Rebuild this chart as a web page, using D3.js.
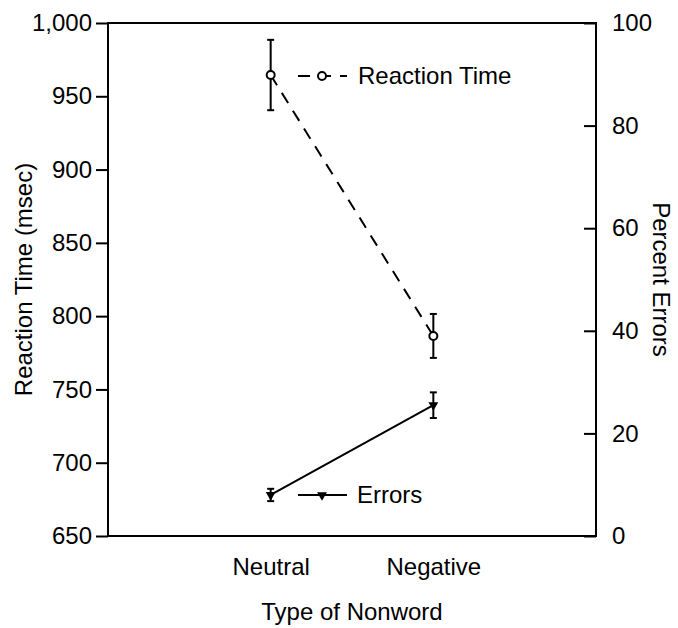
<!DOCTYPE html>
<html>
<head>
<meta charset="utf-8">
<script src="https://cdn.jsdelivr.net/npm/d3@7"></script>
<style>
  body { margin: 0; background: #fff; }
  text { font-family: "Liberation Sans", Arial, Helvetica, sans-serif; fill: #000; }
</style>
</head>
<body>
<div id="chart"></div>
<script>
// values
var categories = ["Neutral", "Negative"];
var rtMeans = [964.5, 786.5];
var rtErrors = [24, 15];
var pctMeans = [8, 25.5];
var pctErrors = [1.2, 2.5];
var rtTicks = [650, 700, 750, 800, 850, 900, 950, 1000];
var pctTicks = [0, 20, 40, 60, 80, 100];

var svgWidth = 678;
var svgHeight = 628;
var margin = { top: 23, right: 82, bottom: 92, left: 108 };
var width = svgWidth - margin.left - margin.right;
var height = svgHeight - margin.top - margin.bottom;
var fontSize = 24;

var svg = d3.select("#chart")
    .append("svg")
    .attr("width", svgWidth)
    .attr("height", svgHeight);

var g = svg.append("g")
    .attr("transform", `translate(${margin.left}, ${margin.top})`);

var x = d3.scalePoint()
    .domain(categories)
    .range([0, width])
    .padding(1);

var yRT = d3.scaleLinear().domain([650, 1000]).range([height, 0]);
var yPct = d3.scaleLinear().domain([0, 100]).range([height, 0]);

// axes
var leftAxis = d3.axisLeft(yRT)
    .tickValues(rtTicks)
    .tickSize(12)
    .tickPadding(4)
    .tickFormat(d3.format(","));
var rightAxis = d3.axisRight(yPct)
    .tickValues(pctTicks)
    .tickSize(-12)
    .tickPadding(16);
var bottomAxis = d3.axisBottom(x)
    .tickSize(0)
    .tickPadding(22);

function styleAxis(sel) {
    sel.select(".domain").remove();
    sel.selectAll("line").attr("stroke", "#000").attr("stroke-width", 2);
    sel.selectAll("text").style("font-size", fontSize + "px").attr("fill", "#000");
}

g.append("g").call(leftAxis).call(styleAxis);
g.append("g").attr("transform", `translate(${width}, 0)`).call(rightAxis).call(styleAxis);
g.append("g").attr("transform", `translate(0, ${height})`).call(bottomAxis).call(styleAxis);

// frame
g.append("rect")
    .attr("width", width)
    .attr("height", height)
    .attr("fill", "none")
    .attr("stroke", "#000")
    .attr("stroke-width", 2);

// axis titles
g.append("text")
    .attr("transform", `translate(${-76}, ${height / 2}) rotate(-90)`)
    .attr("text-anchor", "middle")
    .style("font-size", fontSize + "px")
    .text("Reaction Time (msec)");

g.append("text")
    .attr("transform", `translate(${width + 57}, ${height / 2}) rotate(90)`)
    .attr("text-anchor", "middle")
    .style("font-size", fontSize + "px")
    .text("Percent Errors");

g.append("text")
    .attr("x", width / 2)
    .attr("y", height + 84)
    .attr("text-anchor", "middle")
    .style("font-size", fontSize + "px")
    .text("Type of Nonword");

var rtData = categories.map((c, i) => ({ cat: c, mean: rtMeans[i], err: rtErrors[i] }));
var pctData = categories.map((c, i) => ({ cat: c, mean: pctMeans[i], err: pctErrors[i] }));

var triangle = d3.symbol().type(d3.symbolTriangle).size(42);

// errors series (solid line, triangles)
g.append("path")
    .datum(pctData)
    .attr("fill", "none")
    .attr("stroke", "#000")
    .attr("stroke-width", 2)
    .attr("d", d3.line().x(d => x(d.cat)).y(d => yPct(d.mean)));

function errorBars(data, scale, cls) {
    var bars = g.selectAll("." + cls)
        .data(data)
        .enter()
        .append("g")
        .attr("class", cls);
    bars.append("line")
        .attr("x1", d => x(d.cat)).attr("x2", d => x(d.cat))
        .attr("y1", d => scale(d.mean - d.err)).attr("y2", d => scale(d.mean + d.err));
    bars.append("line")
        .attr("x1", d => x(d.cat) - 3.5).attr("x2", d => x(d.cat) + 3.5)
        .attr("y1", d => scale(d.mean - d.err)).attr("y2", d => scale(d.mean - d.err));
    bars.append("line")
        .attr("x1", d => x(d.cat) - 3.5).attr("x2", d => x(d.cat) + 3.5)
        .attr("y1", d => scale(d.mean + d.err)).attr("y2", d => scale(d.mean + d.err));
    bars.selectAll("line").attr("stroke", "#000").attr("stroke-width", 2);
}

errorBars(pctData, yPct, "pctbar");

g.selectAll(".tri")
    .data(pctData)
    .enter()
    .append("path")
    .attr("class", "tri")
    .attr("d", triangle)
    .attr("transform", d => `translate(${x(d.cat)}, ${yPct(d.mean)}) rotate(180)`)
    .attr("fill", "#000");

// reaction time series (dashed line, open circles)
g.append("path")
    .datum(rtData)
    .attr("fill", "none")
    .attr("stroke", "#000")
    .attr("stroke-width", 2)
    .attr("stroke-dasharray", "12,9")
    .attr("d", d3.line().x(d => x(d.cat)).y(d => yRT(d.mean)));

errorBars(rtData, yRT, "rtbar");

g.selectAll(".dot")
    .data(rtData)
    .enter()
    .append("circle")
    .attr("class", "dot")
    .attr("cx", d => x(d.cat))
    .attr("cy", d => yRT(d.mean))
    .attr("r", 4)
    .attr("fill", "#fff")
    .attr("stroke", "#000")
    .attr("stroke-width", 2);

// legends
var legRT = svg.append("g").attr("transform", "translate(298, 76)");
legRT.append("line")
    .attr("x1", 0).attr("x2", 49)
    .attr("stroke", "#000").attr("stroke-width", 2)
    .attr("stroke-dasharray", "12,9");
legRT.append("circle")
    .attr("cx", 24).attr("r", 4)
    .attr("fill", "#fff").attr("stroke", "#000").attr("stroke-width", 2);
legRT.append("text")
    .attr("x", 60).attr("y", 8)
    .style("font-size", fontSize + "px")
    .text("Reaction Time");

var legErr = svg.append("g").attr("transform", "translate(298, 495)");
legErr.append("line")
    .attr("x1", 0).attr("x2", 49)
    .attr("stroke", "#000").attr("stroke-width", 2);
legErr.append("path")
    .attr("d", triangle)
    .attr("transform", "translate(24, 0) rotate(180)")
    .attr("fill", "#000");
legErr.append("text")
    .attr("x", 59).attr("y", 8)
    .style("font-size", fontSize + "px")
    .text("Errors");
</script>
</body>
</html>
